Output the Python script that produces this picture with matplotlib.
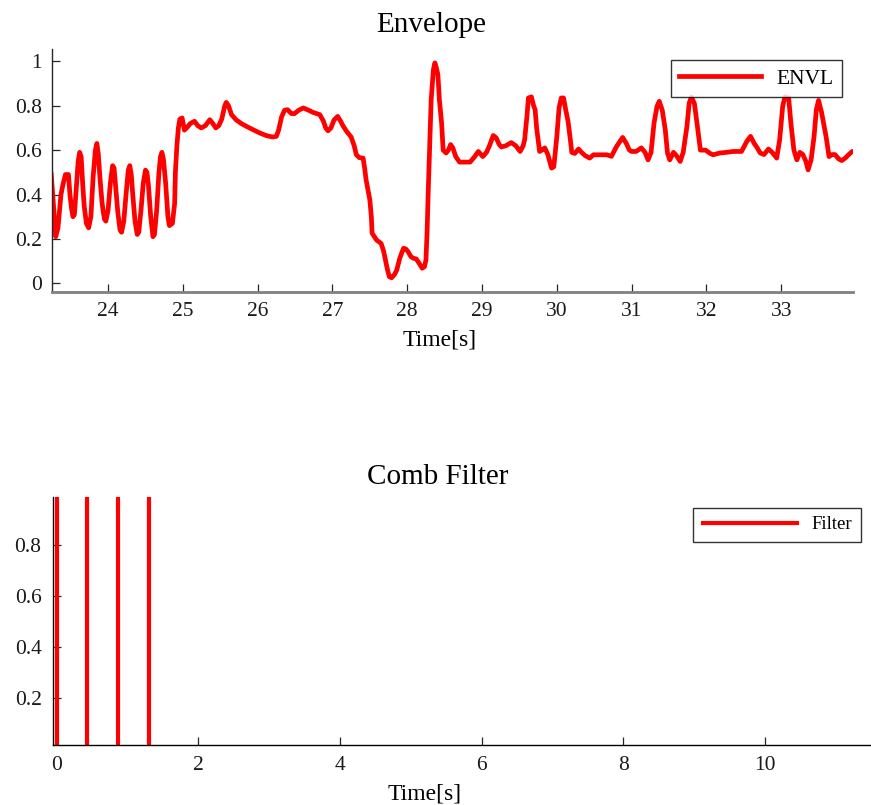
import matplotlib
matplotlib.use("Agg")
import matplotlib.pyplot as plt

plt.rcParams['font.family'] = ['Liberation Serif', 'DejaVu Serif']

# envelope samples (time in s, normalised level)
env_t = [23.24, 23.26, 23.27, 23.30, 23.33, 23.37, 23.40, 23.43, 23.47, 23.49,
         23.51, 23.53, 23.55, 23.58, 23.60, 23.62, 23.64, 23.66, 23.68, 23.71,
         23.74, 23.77, 23.80, 23.83, 23.85, 23.87, 23.89, 23.92, 23.95, 23.97,
         24.00, 24.03, 24.06, 24.08, 24.10, 24.13, 24.16, 24.18, 24.21, 24.24,
         24.27, 24.29, 24.31, 24.33, 24.36, 24.39, 24.41, 24.44, 24.47, 24.50,
         24.52, 24.54, 24.57, 24.60, 24.62, 24.65, 24.68, 24.70, 24.72, 24.74,
         24.77, 24.80, 24.82, 24.86, 24.89, 24.90, 24.92, 24.94, 24.96, 24.99,
         25.02, 25.05, 25.10, 25.155, 25.20, 25.245, 25.30, 25.36, 25.40, 25.44,
         25.48, 25.52, 25.56, 25.58, 25.61, 25.65, 25.71, 25.78, 25.85, 25.95,
         26.03, 26.12, 26.20, 26.25, 26.28, 26.32, 26.36, 26.40, 26.45, 26.49,
         26.55, 26.61, 26.68, 26.74, 26.83, 26.88, 26.91, 26.94, 26.98, 27.02,
         27.07, 27.11, 27.14, 27.19, 27.25, 27.29, 27.32, 27.36, 27.41, 27.43,
         27.45, 27.50, 27.52, 27.53, 27.59, 27.65, 27.68, 27.70, 27.73, 27.76,
         27.79, 27.83, 27.86, 27.90, 27.95, 27.98, 28.01, 28.05, 28.08, 28.12,
         28.16, 28.20, 28.23, 28.25, 28.265, 28.28, 28.30, 28.32, 28.35, 28.37,
         28.39, 28.41, 28.43, 28.46, 28.48, 28.52, 28.55, 28.58, 28.61, 28.65,
         28.70, 28.77, 28.84, 28.90, 28.95, 29.01, 29.06, 29.10, 29.15, 29.19,
         29.23, 29.26, 29.32, 29.39, 29.45, 29.51, 29.55, 29.57, 29.60, 29.62,
         29.66, 29.69, 29.71, 29.73, 29.75, 29.77, 29.80, 29.84, 29.88, 29.93,
         29.96, 30.00, 30.03, 30.06, 30.09, 30.12, 30.15, 30.18, 30.20, 30.24,
         30.29, 30.33, 30.38, 30.44, 30.49, 30.58, 30.67, 30.73, 30.80, 30.88,
         30.93, 30.97, 31.00, 31.06, 31.13, 31.18, 31.22, 31.26, 31.30, 31.34,
         31.37, 31.41, 31.45, 31.48, 31.51, 31.56, 31.60, 31.65, 31.69, 31.74,
         31.77, 31.80, 31.84, 31.88, 31.92, 31.99, 32.05, 32.09, 32.18, 32.27,
         32.36, 32.47, 32.54, 32.59, 32.64, 32.68, 32.72, 32.77, 32.83, 32.88,
         32.94, 32.98, 33.02, 33.05, 33.10, 33.13, 33.17, 33.21, 33.25, 33.29,
         33.33, 33.36, 33.40, 33.44, 33.47, 33.50, 33.54, 33.60, 33.64, 33.68,
         33.72, 33.77, 33.81, 33.86, 33.90, 33.95, 33.98]
env_v = [0.489, 0.40, 0.35, 0.21, 0.25, 0.40, 0.45, 0.49, 0.49, 0.40,
         0.34, 0.30, 0.31, 0.45, 0.55, 0.59, 0.57, 0.45, 0.35, 0.27,
         0.25, 0.30, 0.48, 0.60, 0.63, 0.58, 0.48, 0.36, 0.29, 0.28,
         0.33, 0.45, 0.53, 0.52, 0.44, 0.32, 0.24, 0.23, 0.28, 0.40,
         0.51, 0.53, 0.49, 0.40, 0.28, 0.22, 0.23, 0.33, 0.45, 0.51,
         0.50, 0.44, 0.30, 0.21, 0.22, 0.33, 0.50, 0.57, 0.59, 0.56,
         0.45, 0.30, 0.26, 0.27, 0.36, 0.50, 0.62, 0.70, 0.74, 0.745,
         0.69, 0.70, 0.72, 0.73, 0.71, 0.70, 0.71, 0.737, 0.72, 0.70,
         0.71, 0.74, 0.80, 0.815, 0.80, 0.76, 0.737, 0.72, 0.707, 0.69,
         0.677, 0.665, 0.659, 0.662, 0.69, 0.75, 0.78, 0.782, 0.765, 0.764,
         0.78, 0.79, 0.78, 0.77, 0.76, 0.73, 0.70, 0.687, 0.70, 0.735,
         0.752, 0.73, 0.71, 0.684, 0.659, 0.62, 0.579, 0.566, 0.564, 0.52,
         0.466, 0.376, 0.30, 0.226, 0.195, 0.18, 0.15, 0.12, 0.07, 0.03,
         0.025, 0.04, 0.06, 0.113, 0.158, 0.155, 0.143, 0.12, 0.113, 0.11,
         0.09, 0.068, 0.075, 0.105, 0.226, 0.406, 0.617, 0.827, 0.963, 0.993,
         0.97, 0.94, 0.827, 0.72, 0.60, 0.587, 0.60, 0.625, 0.61, 0.57,
         0.546, 0.546, 0.546, 0.57, 0.594, 0.571, 0.59, 0.62, 0.666, 0.655,
         0.625, 0.614, 0.62, 0.634, 0.62, 0.594, 0.62, 0.647, 0.75, 0.835,
         0.84, 0.80, 0.782, 0.70, 0.647, 0.594, 0.60, 0.61, 0.58, 0.519,
         0.525, 0.66, 0.79, 0.835, 0.835, 0.78, 0.73, 0.65, 0.59, 0.585,
         0.605, 0.59, 0.575, 0.564, 0.579, 0.579, 0.579, 0.572, 0.617, 0.657,
         0.63, 0.60, 0.594, 0.594, 0.61, 0.59, 0.556, 0.59, 0.722, 0.797,
         0.82, 0.78, 0.692, 0.587, 0.556, 0.59, 0.575, 0.549, 0.59, 0.707,
         0.812, 0.839, 0.81, 0.707, 0.60, 0.60, 0.585, 0.579, 0.587, 0.59,
         0.594, 0.594, 0.639, 0.662, 0.63, 0.61, 0.587, 0.58, 0.605, 0.59,
         0.564, 0.647, 0.797, 0.84, 0.835, 0.722, 0.60, 0.556, 0.59, 0.58,
         0.55, 0.511, 0.556, 0.662, 0.782, 0.824, 0.77, 0.662, 0.571, 0.58,
         0.58, 0.56, 0.553, 0.565, 0.579, 0.594, 0.594]

# comb filter impulses
comb_t = [0.0, 0.43, 0.87, 1.30]
comb_amp = [1.0, 1.0, 1.0, 1.0]

env_yticks = [0, 0.2, 0.4, 0.6, 0.8, 1]
env_yticklabels = ['0', '0.2', '0.4', '0.6', '0.8', '1']
comb_yticks = [0.2, 0.4, 0.6, 0.8]
comb_xticks = [0, 2, 4, 6, 8, 10]

fig = plt.figure(figsize=(8.71, 8.05), dpi=100)

# ---- envelope ----
ax1 = fig.add_axes([0.0597, 0.637, 0.9196, 0.302])
ax1.plot(env_t, env_v, color='#ff0000', lw=3.4, solid_joinstyle='round', label='ENVL')
ax1.set_xlim(23.25, 33.96)
ax1.set_ylim(-0.04, 1.055)
ax1.set_yticks(env_yticks)
ax1.set_yticklabels(env_yticklabels)
ax1.set_xticks(range(24, 34))
ax1.set_title('Envelope', fontsize=21, pad=12, x=0.473)
ax1.set_xlabel('Time[s]', fontsize=17)
ax1.xaxis.set_label_coords(0.484, -0.155)
ax1.spines['top'].set_visible(False)
ax1.spines['right'].set_visible(False)
ax1.spines['left'].set_color('#262626')
ax1.spines['left'].set_linewidth(1.0)
ax1.spines['bottom'].set_color('#808080')
ax1.spines['bottom'].set_linewidth(2.0)
ax1.tick_params(direction='in', length=5.5, width=0.9, color='#262626',
                labelsize=15.5, labelcolor='#1a1a1a', pad=7)
leg1 = ax1.legend(loc='upper right', bbox_to_anchor=(0.9664, 0.9255),
                  bbox_transform=fig.transFigure, borderaxespad=0,
                  fancybox=False, edgecolor='black', fontsize=15.5,
                  handlelength=3.8, borderpad=0.4, handletextpad=0.7)
leg1.get_frame().set_linewidth(1.0)

# ---- comb filter ----
ax2 = fig.add_axes([0.0605, 0.0745, 0.9395, 0.3085])
ax2.vlines(comb_t, 0, comb_amp, color='#ff0000', lw=3.0, label='Filter')
ax2.set_xlim(-0.056, 11.5)
ax2.set_ylim(0.0165, 0.99)
ax2.set_yticks(comb_yticks)
ax2.set_xticks(comb_xticks)
ax2.set_title('Comb Filter', fontsize=21, pad=9, x=0.471)
ax2.set_xlabel('Time[s]', fontsize=17)
ax2.xaxis.set_label_coords(0.455, -0.155)
ax2.spines['top'].set_visible(False)
ax2.spines['right'].set_visible(False)
for side in ('left', 'bottom'):
    ax2.spines[side].set_color('black')
    ax2.spines[side].set_linewidth(1.0)
ax2.tick_params(direction='in', length=5.5, width=0.9, color='#262626',
                labelsize=15.5, labelcolor='#1a1a1a', pad=8)
leg2 = ax2.legend(loc='upper right', bbox_to_anchor=(0.9885, 0.3693),
                  bbox_transform=fig.transFigure, borderaxespad=0,
                  fancybox=False, edgecolor='black', fontsize=13.5,
                  handlelength=5.2, borderpad=0.45, handletextpad=0.7)
leg2.get_frame().set_linewidth(1.0)

fig.savefig('out.png', dpi=100)
